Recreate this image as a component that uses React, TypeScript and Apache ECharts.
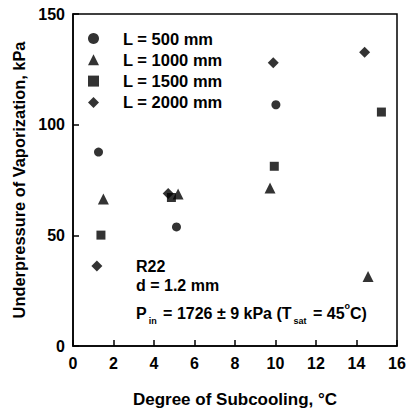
import React, { useEffect, useRef } from "react";
import * as echarts from "echarts";

const seriesNames = ["L = 500 mm", "L = 1000 mm", "L = 1500 mm", "L = 2000 mm"];
const symbols = ["circle", "triangle", "rect", "diamond"];
const symbolSizes = [9, 11, 9, 11];

const l500: [number, number][] = [[1.26, 87.6], [5.11, 53.8], [10.02, 109.0]];
const l1000: [number, number][] = [[1.5, 66.4], [5.19, 68.7], [9.73, 71.4], [14.57, 31.4]];
const l1500: [number, number][] = [[1.38, 50.1], [4.86, 67.1], [9.94, 81.2], [15.23, 105.7]];
const l2000: [number, number][] = [[1.18, 36.2], [4.7, 68.9], [9.89, 128.0], [14.4, 132.7]];

const xTicks = [0, 2, 4, 6, 8, 10, 12, 14, 16];
const yTicks = [0, 50, 100, 150];

const FONT = "Arial, 'Liberation Sans', Helvetica, sans-serif";

export default function App() {
  const ref = useRef<HTMLDivElement>(null);
  useEffect(() => {
    if (!ref.current) return;
    const chart = echarts.init(ref.current, undefined, { renderer: "svg" });
    const allData = [l500, l1000, l1500, l2000];
    const option: any = {
      animation: false,
      backgroundColor: "#fff",
      grid: {
        left: 73,
        right: 12,
        top: 14,
        bottom: 67,
        show: true,
        borderColor: "#000",
        borderWidth: 1.5,
        backgroundColor: "transparent",
      },
      legend: {
        orient: "vertical",
        left: 88,
        top: 30,
        padding: 0,
        itemWidth: 11,
        itemHeight: 11,
        itemGap: 4.3,
        data: seriesNames,
        textStyle: {
          fontFamily: FONT,
          fontSize: 16.5,
          fontWeight: "bold",
          color: "#000",
          padding: [0, 0, 0, 19],
        },
      },
      xAxis: {
        type: "value",
        min: 0,
        max: 16,
        interval: 2,
        name: "Degree of Subcooling, °C",
        nameLocation: "middle",
        nameGap: 45,
        nameTextStyle: { fontFamily: FONT, fontSize: 17, fontWeight: "bold", color: "#000" },
        axisLine: { lineStyle: { color: "#000", width: 1.5 } },
        axisTick: { inside: true, length: 6, lineStyle: { color: "#000", width: 1.5 } },
        axisLabel: {
          margin: 9,
          fontFamily: FONT,
          fontSize: 16,
          fontWeight: "bold",
          color: "#000",
          formatter: (v: number) => (xTicks.includes(v) ? String(v) : ""),
        },
        splitLine: { show: false },
      },
      yAxis: {
        type: "value",
        min: 0,
        max: 150,
        interval: 50,
        name: "Underpressure of Vaporization, kPa",
        nameLocation: "middle",
        nameGap: 43,
        nameTextStyle: { fontFamily: FONT, fontSize: 16.4, fontWeight: "bold", color: "#000" },
        axisLine: { lineStyle: { color: "#000", width: 1.5 } },
        axisTick: { inside: true, length: 6, lineStyle: { color: "#000", width: 1.5 } },
        axisLabel: {
          margin: 8,
          fontFamily: FONT,
          fontSize: 16,
          fontWeight: "bold",
          color: "#000",
          formatter: (v: number) => (yTicks.includes(v) ? String(v) : ""),
        },
        splitLine: { show: false },
      },
      series: seriesNames.map((name, i) => ({
        name,
        type: "scatter",
        symbol: symbols[i],
        symbolSize: symbolSizes[i],
        itemStyle: { color: "#000" },
        data: allData[i],
      })),
      graphic: [
        {
          type: "text",
          left: 136,
          top: 258,
          style: { text: "R22", fontFamily: FONT, fontSize: 16, fontWeight: "bold", fill: "#000" },
        },
        {
          type: "text",
          left: 136,
          top: 277,
          style: { text: "d = 1.2 mm", fontFamily: FONT, fontSize: 16, fontWeight: "bold", fill: "#000" },
        },
        {
          type: "text",
          left: 136,
          top: 301,
          style: {
            text: "{n|P}{sub|in}{n| = 1726 ± 9 kPa (T}{sub|sat}{n| = 45}{sup|o}{n|C)}",
            fontFamily: FONT,
            fill: "#000",
            rich: {
              n: { fontFamily: FONT, fontSize: 16, fontWeight: "bold", lineHeight: 24, verticalAlign: "middle", fill: "#000" },
              sub: { fontFamily: FONT, fontSize: 9, fontWeight: "bold", lineHeight: 2, verticalAlign: "bottom", fill: "#000", padding: [0, 2, 0, 2] },
              sup: { fontFamily: FONT, fontSize: 9, fontWeight: "bold", lineHeight: 14, verticalAlign: "top", fill: "#000" },
            },
          },
        },
      ],
    };
    chart.setOption(option);
    return () => chart.dispose();
  }, []);
  return (
    <div
      ref={ref}
      style={{ position: "fixed", left: 0, top: 0, width: 409, height: 413, background: "#fff" }}
    />
  );
}
